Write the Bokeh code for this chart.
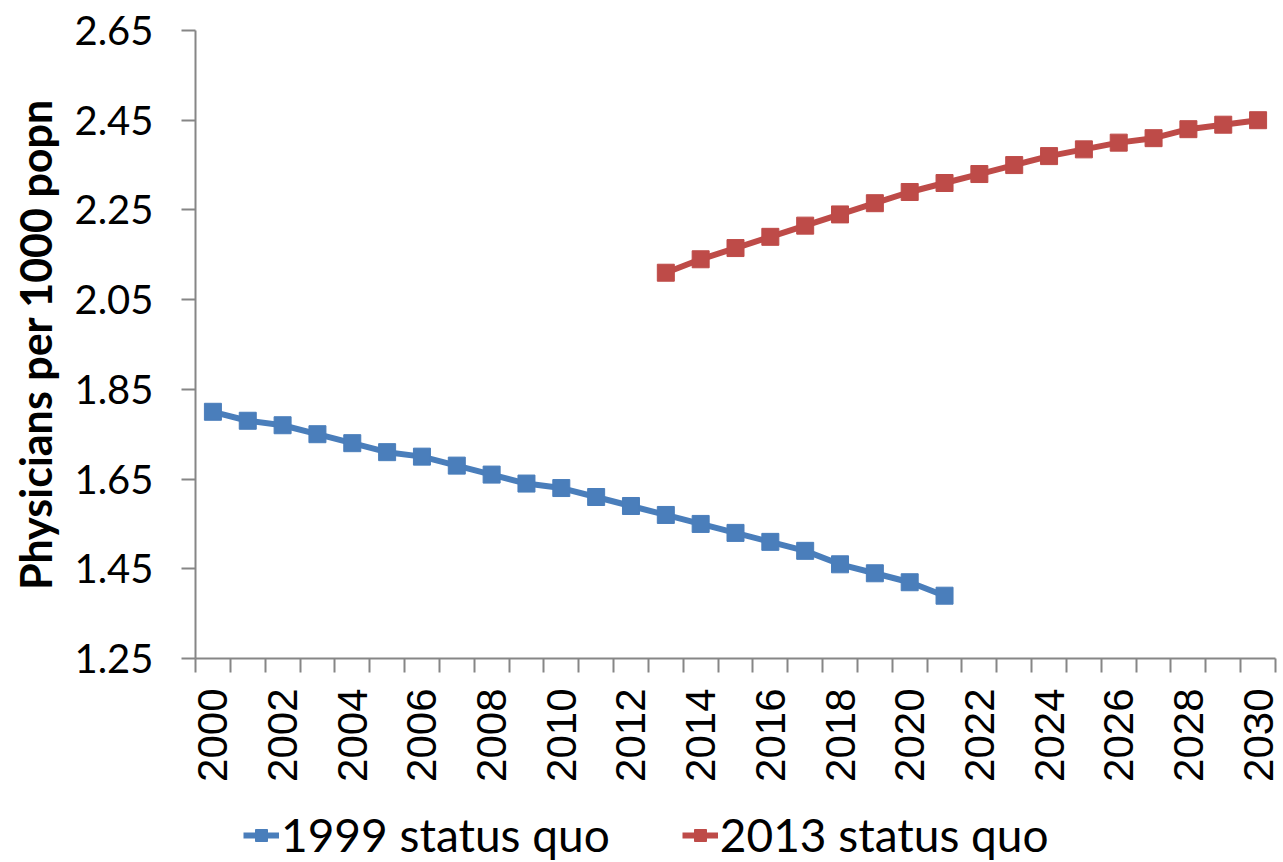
from bokeh.plotting import figure
from bokeh.models import FixedTicker, Legend, LegendItem, Range1d
from bokeh.layouts import column
from bokeh.embed import file_html
from bokeh.resources import INLINE
import math

# ---- data ----
years_1999 = list(range(2000, 2022))
sq_1999 = [1.80, 1.78, 1.77, 1.75, 1.73, 1.71, 1.70, 1.68, 1.66, 1.64, 1.63,
           1.61, 1.59, 1.57, 1.55, 1.53, 1.51, 1.49, 1.46, 1.44, 1.42, 1.39]
years_2013 = list(range(2013, 2031))
sq_2013 = [2.11, 2.14, 2.165, 2.19, 2.215, 2.24, 2.265, 2.29, 2.31, 2.33,
           2.35, 2.37, 2.385, 2.40, 2.41, 2.43, 2.44, 2.45]
series_names = ["1999 status quo", "2013 status quo"]
y_ticks = [1.25, 1.45, 1.65, 1.85, 2.05, 2.25, 2.45, 2.65]
y_tick_labels = ["1.25", "1.45", "1.65", "1.85", "2.05", "2.25", "2.45", "2.65"]
x_label_years = list(range(2000, 2031, 2))
all_years = list(range(2000, 2031))
y_title = "Physicians per 1000 popn"

BLUE = "#4a7ebb"
RED = "#be4b48"
AXIS = "#868686"

MAIN_H = 792
LEG_H = 70


def add_series(fig):
    r = []
    r.append(fig.line(years_1999, sq_1999, line_color=BLUE, line_width=6))
    r.append(fig.scatter(years_1999, sq_1999, marker="square", size=17,
                         fill_color=BLUE, line_color=BLUE))
    r.append(fig.line(years_2013, sq_2013, line_color=RED, line_width=6))
    r.append(fig.scatter(years_2013, sq_2013, marker="square", size=17,
                         fill_color=RED, line_color=RED))
    return r


p = figure(width=1283, height=MAIN_H, output_backend="svg", toolbar_location=None,
           x_range=Range1d(all_years[0] - 0.5, all_years[-1] + 0.5),
           y_range=Range1d(y_ticks[0], y_ticks[-1]),
           min_border_left=195, min_border_right=8, min_border_top=30,
           min_border_bottom=MAIN_H - 30 - 628)
p.outline_line_color = None
p.grid.visible = False
p.background_fill_color = "white"
p.border_fill_color = "white"

# x axis
xa = p.xaxis[0]
xa.ticker = FixedTicker(ticks=x_label_years,
                        minor_ticks=[y - 0.5 for y in all_years + [all_years[-1] + 1]])
xa.major_tick_line_color = None
xa.major_tick_out = 14
xa.minor_tick_out = 14
xa.minor_tick_in = 0
xa.minor_tick_line_color = AXIS
xa.minor_tick_line_width = 2
xa.axis_line_color = AXIS
xa.axis_line_width = 2
xa.major_label_orientation = math.pi / 2
xa.major_label_text_font = "Liberation Sans"
xa.major_label_text_font_size = "42px"
xa.major_label_text_color = "black"
xa.major_label_standoff = 16

# y axis
ya = p.yaxis[0]
ya.ticker = FixedTicker(ticks=y_ticks, minor_ticks=[])
ya.major_label_overrides = {t: l for t, l in zip(y_ticks, y_tick_labels)}
ya.major_tick_out = 14
ya.major_tick_in = 0
ya.major_tick_line_color = AXIS
ya.major_tick_line_width = 2
ya.minor_tick_line_color = None
ya.axis_line_color = AXIS
ya.axis_line_width = 2
ya.major_label_text_font = "Lato"
ya.major_label_text_font_size = "40px"
ya.major_label_text_color = "black"
ya.major_label_standoff = 28
ya.axis_label = y_title
ya.axis_label_text_font = "Lato"
ya.axis_label_text_font_style = "bold"
ya.axis_label_text_font_size = "43px"
ya.axis_label_text_color = "black"
ya.axis_label_standoff = 10

add_series(p)

# legend strip (separate figure so the legend is not clipped);
# its renderers use the same data but fall outside this strip's ranges
lg = figure(width=1283, height=LEG_H, output_backend="svg", toolbar_location=None,
            x_range=Range1d(0, 1), y_range=Range1d(0, 1),
            min_border=0)
lg.axis.visible = False
lg.grid.visible = False
lg.outline_line_color = None
lg.border_fill_color = "white"
lr = add_series(lg)

legend = Legend(items=[LegendItem(label=series_names[0], renderers=[lr[0], lr[1]]),
                       LegendItem(label=series_names[1], renderers=[lr[2], lr[3]])],
                orientation="horizontal", location=(48, 0),
                label_text_font="Lato", label_text_font_size="46px",
                label_text_color="black", glyph_width=36, glyph_height=30,
                label_standoff=2, spacing=72, padding=0, margin=0,
                border_line_color=None, background_fill_alpha=0)
lg.add_layout(legend, "center")

layout = column(p, lg, spacing=0)
open("out.html", "w").write(file_html(layout, INLINE))
